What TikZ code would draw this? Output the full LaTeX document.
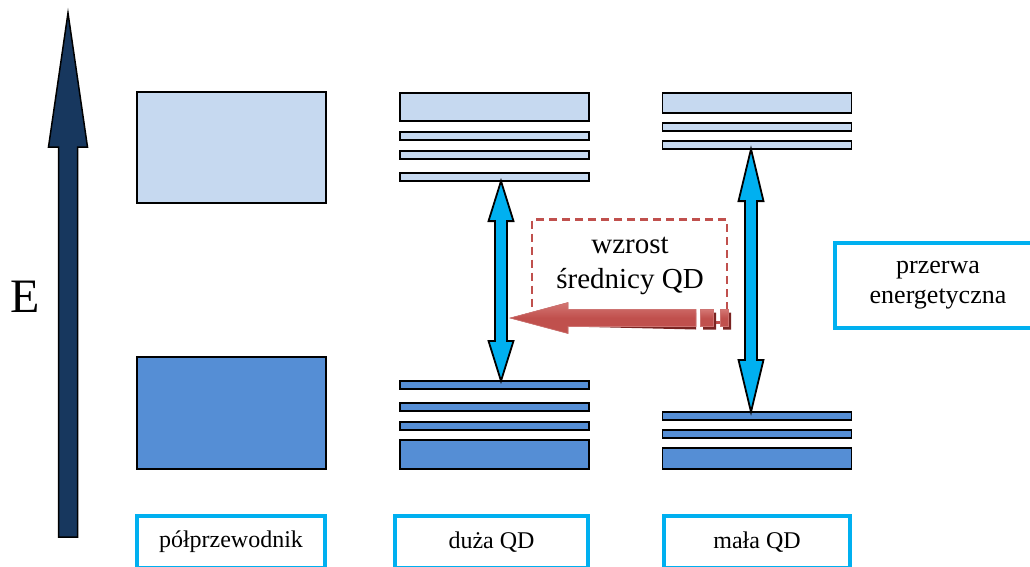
\documentclass[tikz,border=0pt]{standalone}
\usepackage{fontspec}
\setmainfont{Liberation Serif}
\usepackage{tikz}
\usetikzlibrary{shapes,arrows,calc}
\definecolor{bandLight}{RGB}{198,217,240}
\definecolor{bandDark}{RGB}{85,142,213}
\definecolor{axisNavy}{RGB}{23,55,94}
\definecolor{gapCyan}{RGB}{0,176,240}
\definecolor{growRed}{RGB}{192,80,77}
\definecolor{growLight}{RGB}{212,118,115}
\definecolor{growShadow}{RGB}{122,36,34}

% vertical block arrow with two heads: top point, bottom point, head length
\newcommand{\gaparrow}[3]{%
  \path[gap arrow] (#1) -- ($(#1)+(12.5,#3)$) -- ($(#1)+(6,#3)$) -- ($(#2)+(6,-#3)$) -- ($(#2)+(12.5,-#3)$) -- (#2)
    -- ($(#2)+(-12.5,-#3)$) -- ($(#2)+(-6,-#3)$) -- ($(#1)+(-6,#3)$) -- ($(#1)+(-12.5,#3)$) -- cycle;}

\begin{document}
\begin{tikzpicture}[x=1pt, y=-1pt]%
  \tikzset{band/.style={draw=black, line width=1.9pt, rectangle, minimum width=189pt, inner sep=0pt, outer sep=0pt},
           upper band/.style={band, fill=bandLight},
           lower band/.style={band, fill=bandDark},
           gap arrow/.style={draw=black, line width=1.8pt, fill=gapCyan, line join=miter},
           axis arrow/.style={draw=black, line width=1.5pt, fill=axisNavy, line join=miter},
           grow arrow/.style={top color=growLight, bottom color=growRed, middle color=growRed, draw=growRed!80!white, line width=0.6pt},
           grow shadow/.style={fill=growShadow},
           label box/.style={draw=gapCyan, line width=4pt, fill=white, rectangle, minimum height=52pt, inner sep=0pt, outer sep=0pt, font=\fontsize{24}{28}\selectfont},
           grow box/.style={draw=growRed, line width=2.3pt, dash pattern=on 8pt off 5pt, rectangle, minimum width=195pt, minimum height=103pt, inner sep=0pt}}
  \clip (0,0) rectangle (1030,566);

  % energy axis
  \coordinate (eTip) at (68,13);
  \coordinate (eTail) at (68,537);
  \path[axis arrow] (eTip) -- ($(eTip)+(19.5,134)$) -- ($(eTip)+(9.5,134)$) -- ($(eTail)+(9.5,0)$)
    -- ($(eTail)+(-9.5,0)$) -- ($(eTip)+(-9.5,134)$) -- ($(eTip)+(-19.5,134)$) -- cycle;
  \node[font=\fontsize{48}{50}\selectfont, inner sep=0pt] at (25,297) (E) {E};

  % semiconductor
  \node[upper band, minimum height=111pt] at (231.5,147.5) (sTop) {};
  \node[lower band, minimum height=112pt] at (231.5,413) (sBot) {};

  % large QD
  \node[upper band, minimum height=28.2pt] at (494.5,107) (dTop1) {};
  \node[upper band, minimum height=8.2pt] at (494.5,136) (dTop2) {};
  \node[upper band, minimum height=8.2pt] at (494.5,155) (dTop3) {};
  \node[upper band, minimum height=8.2pt] at (494.5,177) (dTop4) {};
  \node[lower band, minimum height=8.2pt] at (494.5,385) (dBot1) {};
  \node[lower band, minimum height=8.2pt] at (494.5,407) (dBot2) {};
  \node[lower band, minimum height=8.2pt] at (494.5,426) (dBot3) {};
  \node[lower band, minimum height=29.2pt] at (494.5,454.5) (dBot4) {};

  % small QD
  \node[upper band, minimum height=20.2pt] at (757,103) (mTop1) {};
  \node[upper band, minimum height=8.2pt] at (757,127) (mTop2) {};
  \node[upper band, minimum height=8.2pt] at (757,145) (mTop3) {};
  \node[lower band, minimum height=8.2pt] at (757,416) (mBot1) {};
  \node[lower band, minimum height=8.2pt] at (757,434) (mBot2) {};
  \node[lower band, minimum height=21.2pt] at (757,458.5) (mBot3) {};

  % diameter growth
  \node[grow box] at (629.5,271) (grow) {};
  \node[font=\fontsize{29}{35}\selectfont, align=center, inner sep=0pt] at (630,265.5) (growText) {wzrost\\średnicy QD};
  \coordinate (growTip) at (510,318);
  \coordinate (growTail) at (696,318);
  \begin{scope}[shift={(3,3)}]
    \path[grow shadow] (growTip) -- ++(58,-15.5) -- ++(0,7) -- (growTail |- 0,309.5) -- (growTail |- 0,326.5) -- ($(growTip)+(58,8.5)$) -- ++(0,7) -- cycle;
    \path[grow shadow] (700,309.5) rectangle (713,326.5) (720,309.5) rectangle (728,326.5);
  \end{scope}
  \path[grow arrow] (growTip) -- ++(58,-15.5) -- ++(0,7) -- (growTail |- 0,309.5) -- (growTail |- 0,326.5) -- ($(growTip)+(58,8.5)$) -- ++(0,7) -- cycle;
  \path[grow arrow] (700,309.5) rectangle (713,326.5);
  \path[grow arrow] (720,309.5) rectangle (728,326.5);

  % band gaps
  \coordinate (dGapX) at (501,0);
  \coordinate (mGapX) at (751,0);
  \gaparrow{dTop4.south -| dGapX}{dBot1.north -| dGapX}{40}
  \gaparrow{mTop3.south -| mGapX}{mBot1.north -| mGapX}{52}

  % labels
  \node[label box, minimum width=188pt] at (231,542) (semi) {półprzewodnik};
  \node[label box, minimum width=193pt] at (491.5,542) (large) {duża QD};
  \node[label box, minimum width=186pt] at (757,542) (small) {mała QD};
  \node[label box, minimum width=206pt, minimum height=85pt, align=center, font=\fontsize{26}{30}\selectfont] at (938,285.5) (gap) {przerwa\\energetyczna};
\end{tikzpicture}
\end{document}
